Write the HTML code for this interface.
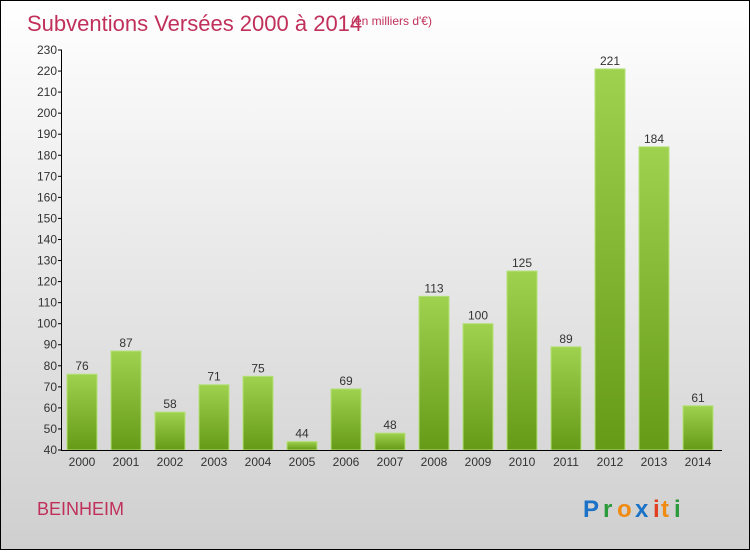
<!DOCTYPE html>
<html><head><meta charset="utf-8"><style>
body{margin:0;width:750px;height:550px;overflow:hidden}
#c{position:relative;width:748px;height:548px;border:1px solid #000;background:linear-gradient(#fff,#cfcfcf);font-family:"Liberation Sans",sans-serif}
</style></head><body>
<div id="c">
<svg width="748" height="548" id="svg">
<defs><linearGradient id="g" x1="0" y1="0" x2="0" y2="1"><stop offset="0" stop-color="#9fd24e"/><stop offset="1" stop-color="#659a17"/></linearGradient></defs>
<text x="26" y="30" font-size="22" fill="#c0305a">Subventions Versées 2000 à 2014</text>
<text x="350" y="24" font-size="12" fill="#c0305a">(en milliers d'€)</text>
<text x="36" y="514" font-size="18" fill="#c0305a">BEINHEIM</text>
<g font-size="24" font-weight="bold">
<text x="582" y="516" fill="#1a73c8">P</text><text x="602" y="516" fill="#2a9a3a">r</text><text x="616" y="516" fill="#f08a10">o</text><text x="634" y="516" fill="#1a73c8">x</text><text x="652" y="516" fill="#e04020">i</text><text x="660" y="516" fill="#f08a10">t</text><text x="673" y="516" fill="#2a9a3a">i</text>
</g>
<g id="plot"></g>
</svg></div>
<script>
const years=["2000","2001","2002","2003","2004","2005","2006","2007","2008","2009","2010","2011","2012","2013","2014"];
const values=[76,87,58,71,75,44,69,48,113,100,125,89,221,184,61];
const ticks=[40,50,60,70,80,90,100,110,120,130,140,150,160,170,180,190,200,210,220,230];
const y0=449,y1=49,vmin=40,vmax=230;
function Y(v){return y0-(v-vmin)/(vmax-vmin)*(y0-y1);}
function X(i){return 81+i*44;}
const ns="http://www.w3.org/2000/svg",p=document.getElementById('plot');
function mk(t,a,txt){const e=document.createElementNS(ns,t);for(const k in a)e.setAttribute(k,a[k]);if(txt!==undefined)e.textContent=txt;p.appendChild(e);return e;}
values.forEach((v,i)=>{
 const r=mk('rect',{x:X(i)-15,y:Y(v),width:30,height:y0-Y(v),fill:'url(#g)',stroke:'#b5e07a','stroke-width':1});
 
 
 const t=mk('text',{x:X(i),y:Y(v)-4,'text-anchor':'middle','font-size':12,fill:'#333'},String(v));
 
 
 const l=mk('text',{x:X(i),y:y0+16,'text-anchor':'middle','font-size':12,fill:'#333'},years[i]);
 
 
});
ticks.forEach(v=>{
 mk('line',{x1:57,x2:61,y1:Y(v),y2:Y(v),stroke:'#000'});
 const t=mk('text',{x:56,y:Y(v)+4,'text-anchor':'end','font-size':12,fill:'#333'},String(v));
 
 
});
const ya=mk('line',{x1:60.5,x2:60.5,y1:y1,y2:y0,stroke:'#000'});


const xa=mk('line',{x1:60,x2:721,y1:y0+0.5,y2:y0+0.5,stroke:'#000'});


</script>
</body></html>
